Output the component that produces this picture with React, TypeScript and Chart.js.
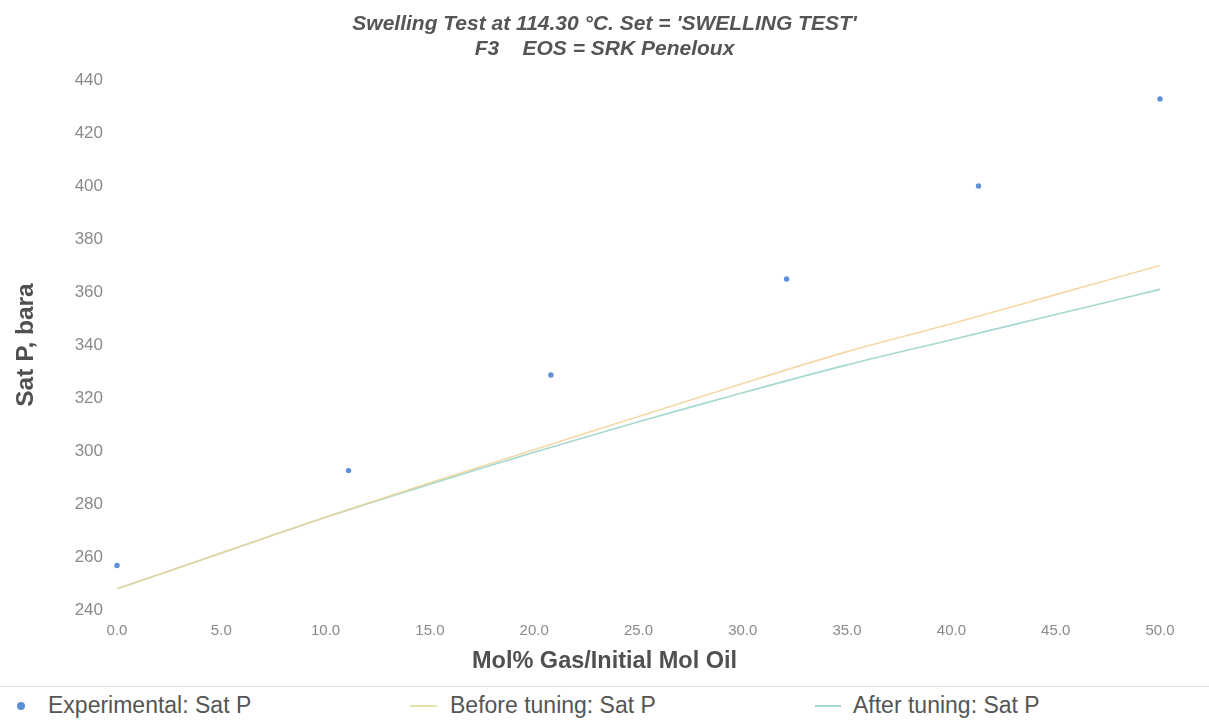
import React, { useEffect, useRef } from "react";
import { Chart, registerables } from "chart.js";

Chart.register(...registerables);

const titleLines = ["Swelling Test at 114.30 °C. Set = 'SWELLING TEST'", "F3    EOS = SRK Peneloux"];
const xAxisTitle = "Mol% Gas/Initial Mol Oil";
const yAxisTitle = "Sat P, bara";

const expX = [0, 11.1, 20.8, 32.1, 41.3, 50];
const expY = [256.8, 292.6, 328.7, 364.9, 400, 432.8];

const curveX = [0, 5, 10, 15, 20, 25, 30, 35, 40, 45, 50];
const beforeY = [248, 261.5, 275, 288, 300.5, 313, 325.5, 337.5, 348, 359, 370];
const afterY = [248, 261.5, 275, 287.5, 299.5, 311, 322, 332.5, 342, 351.5, 361];

const seriesNames = ["Experimental: Sat P", "Before tuning: Sat P", "After tuning: Sat P"];

const FONT = "'Liberation Sans', Arial, sans-serif";

const COL_EXP = "#5b8fd8";
const COL_BEFORE = "rgba(242, 210, 150, 0.85)";
const COL_AFTER = "rgba(155, 212, 203, 0.9)";

export default function App() {
  const ref = useRef<HTMLCanvasElement | null>(null);

  useEffect(() => {
    if (!ref.current) return;
    const xTitlePlugin = {
      id: "xTitlePlugin",
      afterDraw(chart: any) {
        const ctx = chart.ctx;
        ctx.save();
        ctx.font = `bold 23.5px ${FONT}`;
        ctx.fillStyle = "#505050";
        ctx.textAlign = "center";
        ctx.textBaseline = "middle";
        ctx.fillText(xAxisTitle, chart.width / 2, 662);
        ctx.restore();
      },
    };
    const chart = new Chart(ref.current, {
      type: "line",
      data: {
        datasets: [
          {
            label: seriesNames[0],
            data: expX.map((x, i) => ({ x, y: expY[i] })),
            showLine: false,
            pointRadius: 2.7,
            pointBackgroundColor: COL_EXP,
            pointBorderWidth: 0,
            borderColor: COL_EXP,
            backgroundColor: COL_EXP,
            clip: false,
          },
          {
            label: seriesNames[1],
            data: curveX.map((x, i) => ({ x, y: beforeY[i] })),
            borderColor: COL_BEFORE,
            borderWidth: 1.6,
            pointRadius: 0,
            tension: 0.3,
          },
          {
            label: seriesNames[2],
            data: curveX.map((x, i) => ({ x, y: afterY[i] })),
            borderColor: COL_AFTER,
            borderWidth: 1.6,
            pointRadius: 0,
            tension: 0.3,
          },
        ],
      },
      options: {
        animation: false,
        responsive: false,
        maintainAspectRatio: false,
        layout: { padding: 0 },
        plugins: {
          legend: { display: false },
          tooltip: { enabled: false },
          title: {
            display: true,
            text: titleLines,
            color: "#555555",
            font: { family: FONT, size: 21, weight: "bold", style: "italic", lineHeight: 1.19 },
            padding: { top: 12, bottom: 18 },
          },
        },
        scales: {
          x: {
            type: "linear",
            min: 0,
            max: 50,
            grid: { display: false, drawTicks: false },
            border: { display: false },
            ticks: {
              stepSize: 5,
              padding: 12,
              color: "#8a8a8a",
              font: { family: FONT, size: 15 },
              callback: (v: any) => Number(v).toFixed(1),
              maxRotation: 0,
              autoSkip: false,
            },
            afterFit: (s: any) => {
              s.height = 75;
            },
          },
          y: {
            type: "linear",
            min: 240,
            max: 440,
            grid: { display: false, drawTicks: false },
            border: { display: false },
            ticks: {
              stepSize: 20,
              padding: 14,
              color: "#8a8a8a",
              font: { family: FONT, size: 17 },
            },
            title: {
              display: true,
              text: yAxisTitle,
              color: "#505050",
              font: { family: FONT, size: 24.5, weight: "bold", lineHeight: 1.2 },
              padding: { top: 12, bottom: 0 },
            },
            afterFit: (s: any) => {
              s.width = 117;
            },
          },
          yRight: {
            type: "linear",
            position: "right",
            display: true,
            grid: { display: false, drawTicks: false },
            border: { display: false },
            ticks: { display: false },
            afterFit: (s: any) => {
              s.width = 49;
            },
          },
        },
      },
      plugins: [xTitlePlugin],
    });
    return () => chart.destroy();
  }, []);

  const legendText: React.CSSProperties = {
    position: "absolute",
    top: 0,
    height: 36,
    lineHeight: "36px",
    fontFamily: FONT,
    fontSize: 23,
    color: "#555555",
    whiteSpace: "nowrap",
  };

  return (
    <div style={{ position: "absolute", left: 0, top: 0, width: 1209, height: 722, background: "#ffffff", overflow: "hidden" }}>
      <canvas ref={ref} width={1209} height={685} style={{ position: "absolute", left: 0, top: 0, width: 1209, height: 685 }} />
      <div style={{ position: "absolute", left: 0, top: 686, width: 1209, height: 36, borderTop: "1px solid #e4e4e4" }}>
        <div style={{ position: "absolute", left: 17, top: 15, width: 8, height: 8, borderRadius: 4, background: COL_EXP }} />
        <div style={{ ...legendText, left: 48 }}>{seriesNames[0]}</div>
        <div style={{ position: "absolute", left: 410, top: 18, width: 27, height: 2, background: "rgba(225, 225, 160, 0.9)" }} />
        <div style={{ ...legendText, left: 450 }}>{seriesNames[1]}</div>
        <div style={{ position: "absolute", left: 815, top: 18, width: 26, height: 2, background: COL_AFTER }} />
        <div style={{ ...legendText, left: 853 }}>{seriesNames[2]}</div>
      </div>
    </div>
  );
}
